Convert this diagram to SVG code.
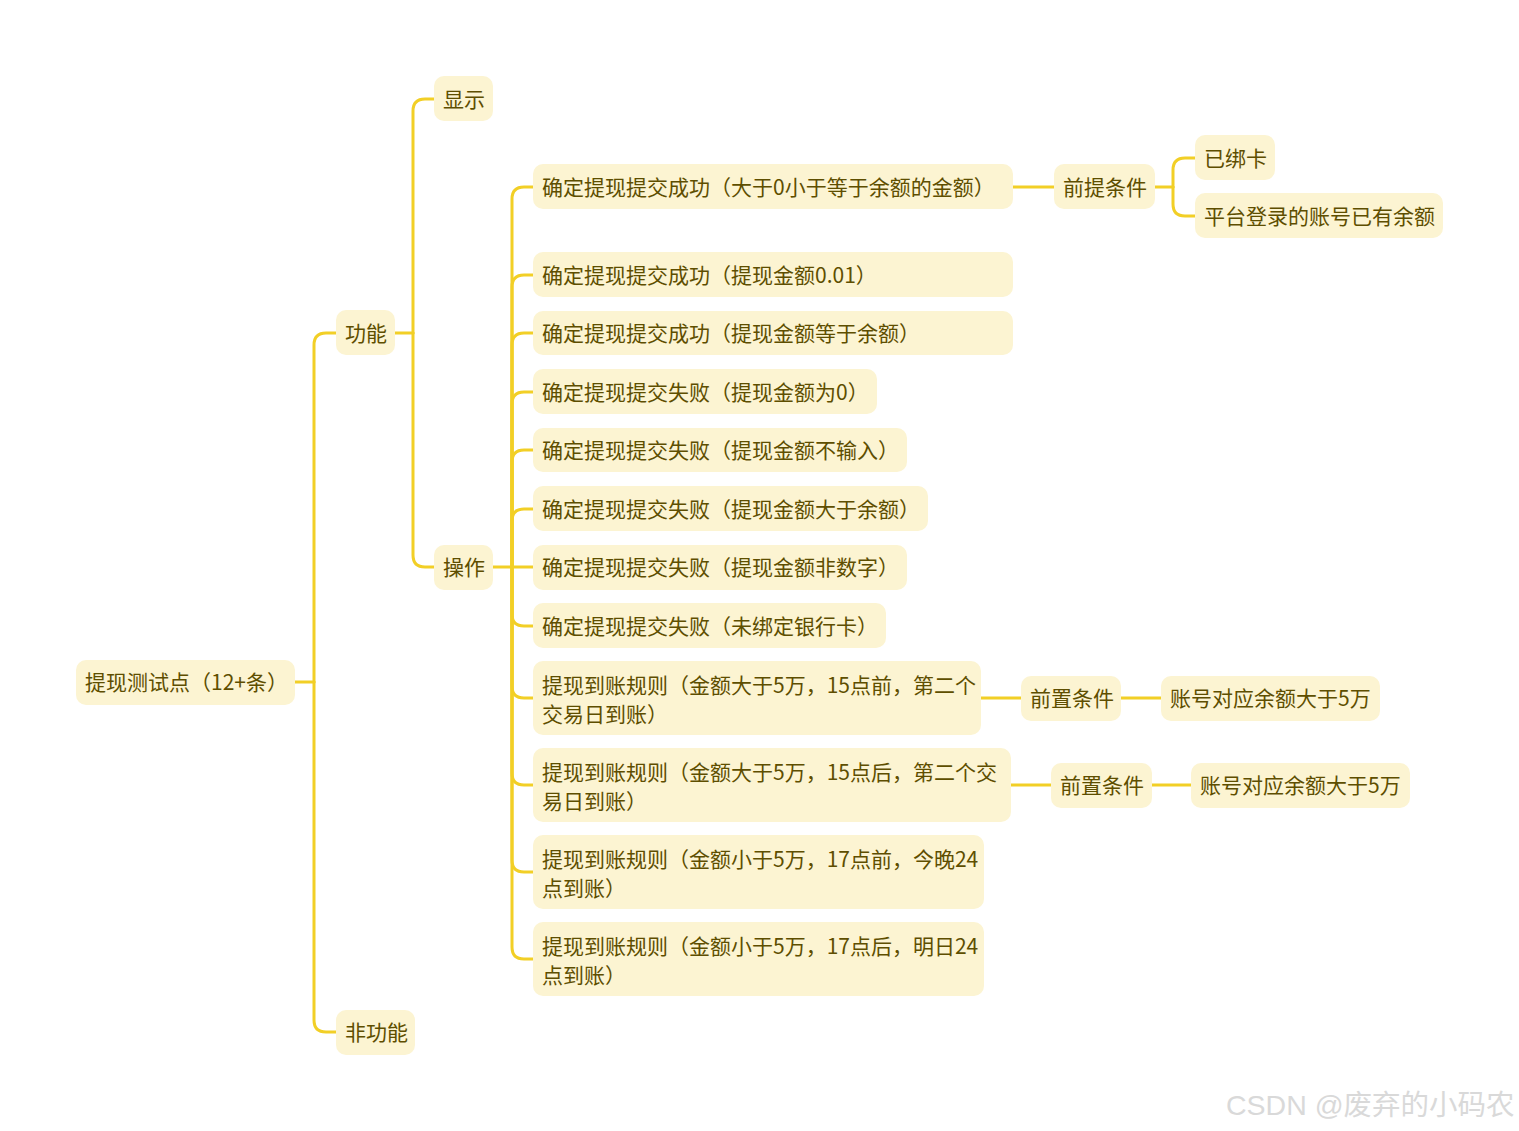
<svg xmlns="http://www.w3.org/2000/svg" width="1519" height="1131" viewBox="0 0 1519 1131">
<style>
.n rect{fill:#FCF4D2;}
.n text{font-family:"Noto Sans CJK SC","Noto Sans",sans-serif;font-size:21px;fill:#5E4E00;}
.c path{fill:none;stroke:#F2CF26;stroke-width:3;stroke-linecap:round;}
.wm{font-family:"Liberation Sans","Noto Sans CJK SC",sans-serif;font-size:28.5px;fill:#d9d9d9;}
</style>
<rect width="1519" height="1131" fill="#ffffff"/>
<g class="c" id="connectors">
<path d="M295 682H314"/>
<path d="M314 682V345Q314 333 326 333H336"/>
<path d="M314 682V1020Q314 1032 326 1032H336"/>
<path d="M395 333H413"/>
<path d="M413 333V111Q413 99 425 99H434"/>
<path d="M413 333V555Q413 567 425 567H434"/>
<path d="M493 567H533"/>
<path d="M512 567V199Q512 187 524 187H533"/>
<path d="M512 567V287Q512 275 524 275H533"/>
<path d="M512 567V345Q512 333 524 333H533"/>
<path d="M512 567V404Q512 392 524 392H533"/>
<path d="M512 567V462Q512 450 524 450H533"/>
<path d="M512 567V521Q512 509 524 509H533"/>
<path d="M512 567V614Q512 626 524 626H533"/>
<path d="M512 567V686Q512 698 524 698H533"/>
<path d="M512 567V773Q512 785 524 785H533"/>
<path d="M512 567V860Q512 872 524 872H533"/>
<path d="M512 567V947Q512 959 524 959H533"/>
<path d="M1013 187H1054"/>
<path d="M1155 187H1173"/>
<path d="M1173 187V170Q1173 158 1185 158H1195"/>
<path d="M1173 187V204Q1173 216 1185 216H1195"/>
<path d="M981 698H1021"/>
<path d="M1121 698H1161"/>
<path d="M1011 785H1051"/>
<path d="M1152 785H1191"/>
</g>
<g class="n" id="root"><rect x="76" y="660" width="219" height="45" rx="10"/><text x="85" y="690">提现测试点（12+条）</text></g>
<g class="n" id="gongneng"><rect x="336" y="310" width="59" height="45" rx="10"/><text x="345" y="341">功能</text></g>
<g class="n" id="feigongneng"><rect x="336" y="1010" width="79" height="45" rx="10"/><text x="345" y="1040">非功能</text></g>
<g class="n" id="xianshi"><rect x="434" y="76" width="59" height="45" rx="10"/><text x="443" y="107">显示</text></g>
<g class="n" id="caozuo"><rect x="434" y="545" width="59" height="45" rx="10"/><text x="443" y="575">操作</text></g>
<g class="n" id="op1"><rect x="533" y="164" width="480" height="45" rx="10"/><text x="542" y="195">确定提现提交成功（大于0小于等于余额的金额）</text></g>
<g class="n" id="op2"><rect x="533" y="252" width="480" height="45" rx="10"/><text x="542" y="283">确定提现提交成功（提现金额0.01）</text></g>
<g class="n" id="op3"><rect x="533" y="311" width="480" height="44" rx="10"/><text x="542" y="341">确定提现提交成功（提现金额等于余额）</text></g>
<g class="n" id="op4"><rect x="533" y="369" width="344" height="45" rx="10"/><text x="542" y="400">确定提现提交失败（提现金额为0）</text></g>
<g class="n" id="op5"><rect x="533" y="428" width="374" height="44" rx="10"/><text x="542" y="458">确定提现提交失败（提现金额不输入）</text></g>
<g class="n" id="op6"><rect x="533" y="486" width="395" height="45" rx="10"/><text x="542" y="517">确定提现提交失败（提现金额大于余额）</text></g>
<g class="n" id="op7"><rect x="533" y="545" width="374" height="45" rx="10"/><text x="542" y="575">确定提现提交失败（提现金额非数字）</text></g>
<g class="n" id="op8"><rect x="533" y="603" width="353" height="45" rx="10"/><text x="542" y="634">确定提现提交失败（未绑定银行卡）</text></g>
<g class="n" id="op9"><rect x="533" y="661" width="448" height="74" rx="10"/><text x="542" y="693">提现到账规则（金额大于5万，15点前，第二个</text><text x="542" y="722">交易日到账）</text></g>
<g class="n" id="op10"><rect x="533" y="748" width="478" height="74" rx="10"/><text x="542" y="780">提现到账规则（金额大于5万，15点后，第二个交</text><text x="542" y="809">易日到账）</text></g>
<g class="n" id="op11"><rect x="533" y="835" width="451" height="74" rx="10"/><text x="542" y="867">提现到账规则（金额小于5万，17点前，今晚24</text><text x="542" y="896">点到账）</text></g>
<g class="n" id="op12"><rect x="533" y="922" width="451" height="74" rx="10"/><text x="542" y="954">提现到账规则（金额小于5万，17点后，明日24</text><text x="542" y="983">点到账）</text></g>
<g class="n" id="qianti"><rect x="1054" y="164" width="101" height="45" rx="10"/><text x="1063" y="195">前提条件</text></g>
<g class="n" id="bangka"><rect x="1195" y="135" width="80" height="45" rx="10"/><text x="1204" y="166">已绑卡</text></g>
<g class="n" id="yue"><rect x="1195" y="193" width="248" height="45" rx="10"/><text x="1204" y="224">平台登录的账号已有余额</text></g>
<g class="n" id="qianzhi1"><rect x="1021" y="676" width="100" height="45" rx="10"/><text x="1030" y="706">前置条件</text></g>
<g class="n" id="yue1"><rect x="1161" y="676" width="219" height="45" rx="10"/><text x="1170" y="706">账号对应余额大于5万</text></g>
<g class="n" id="qianzhi2"><rect x="1051" y="763" width="101" height="45" rx="10"/><text x="1060" y="793">前置条件</text></g>
<g class="n" id="yue2"><rect x="1191" y="763" width="219" height="45" rx="10"/><text x="1200" y="793">账号对应余额大于5万</text></g>
<text class="wm" x="1226" y="1115">CSDN @废弃的小码农</text>
</svg>
